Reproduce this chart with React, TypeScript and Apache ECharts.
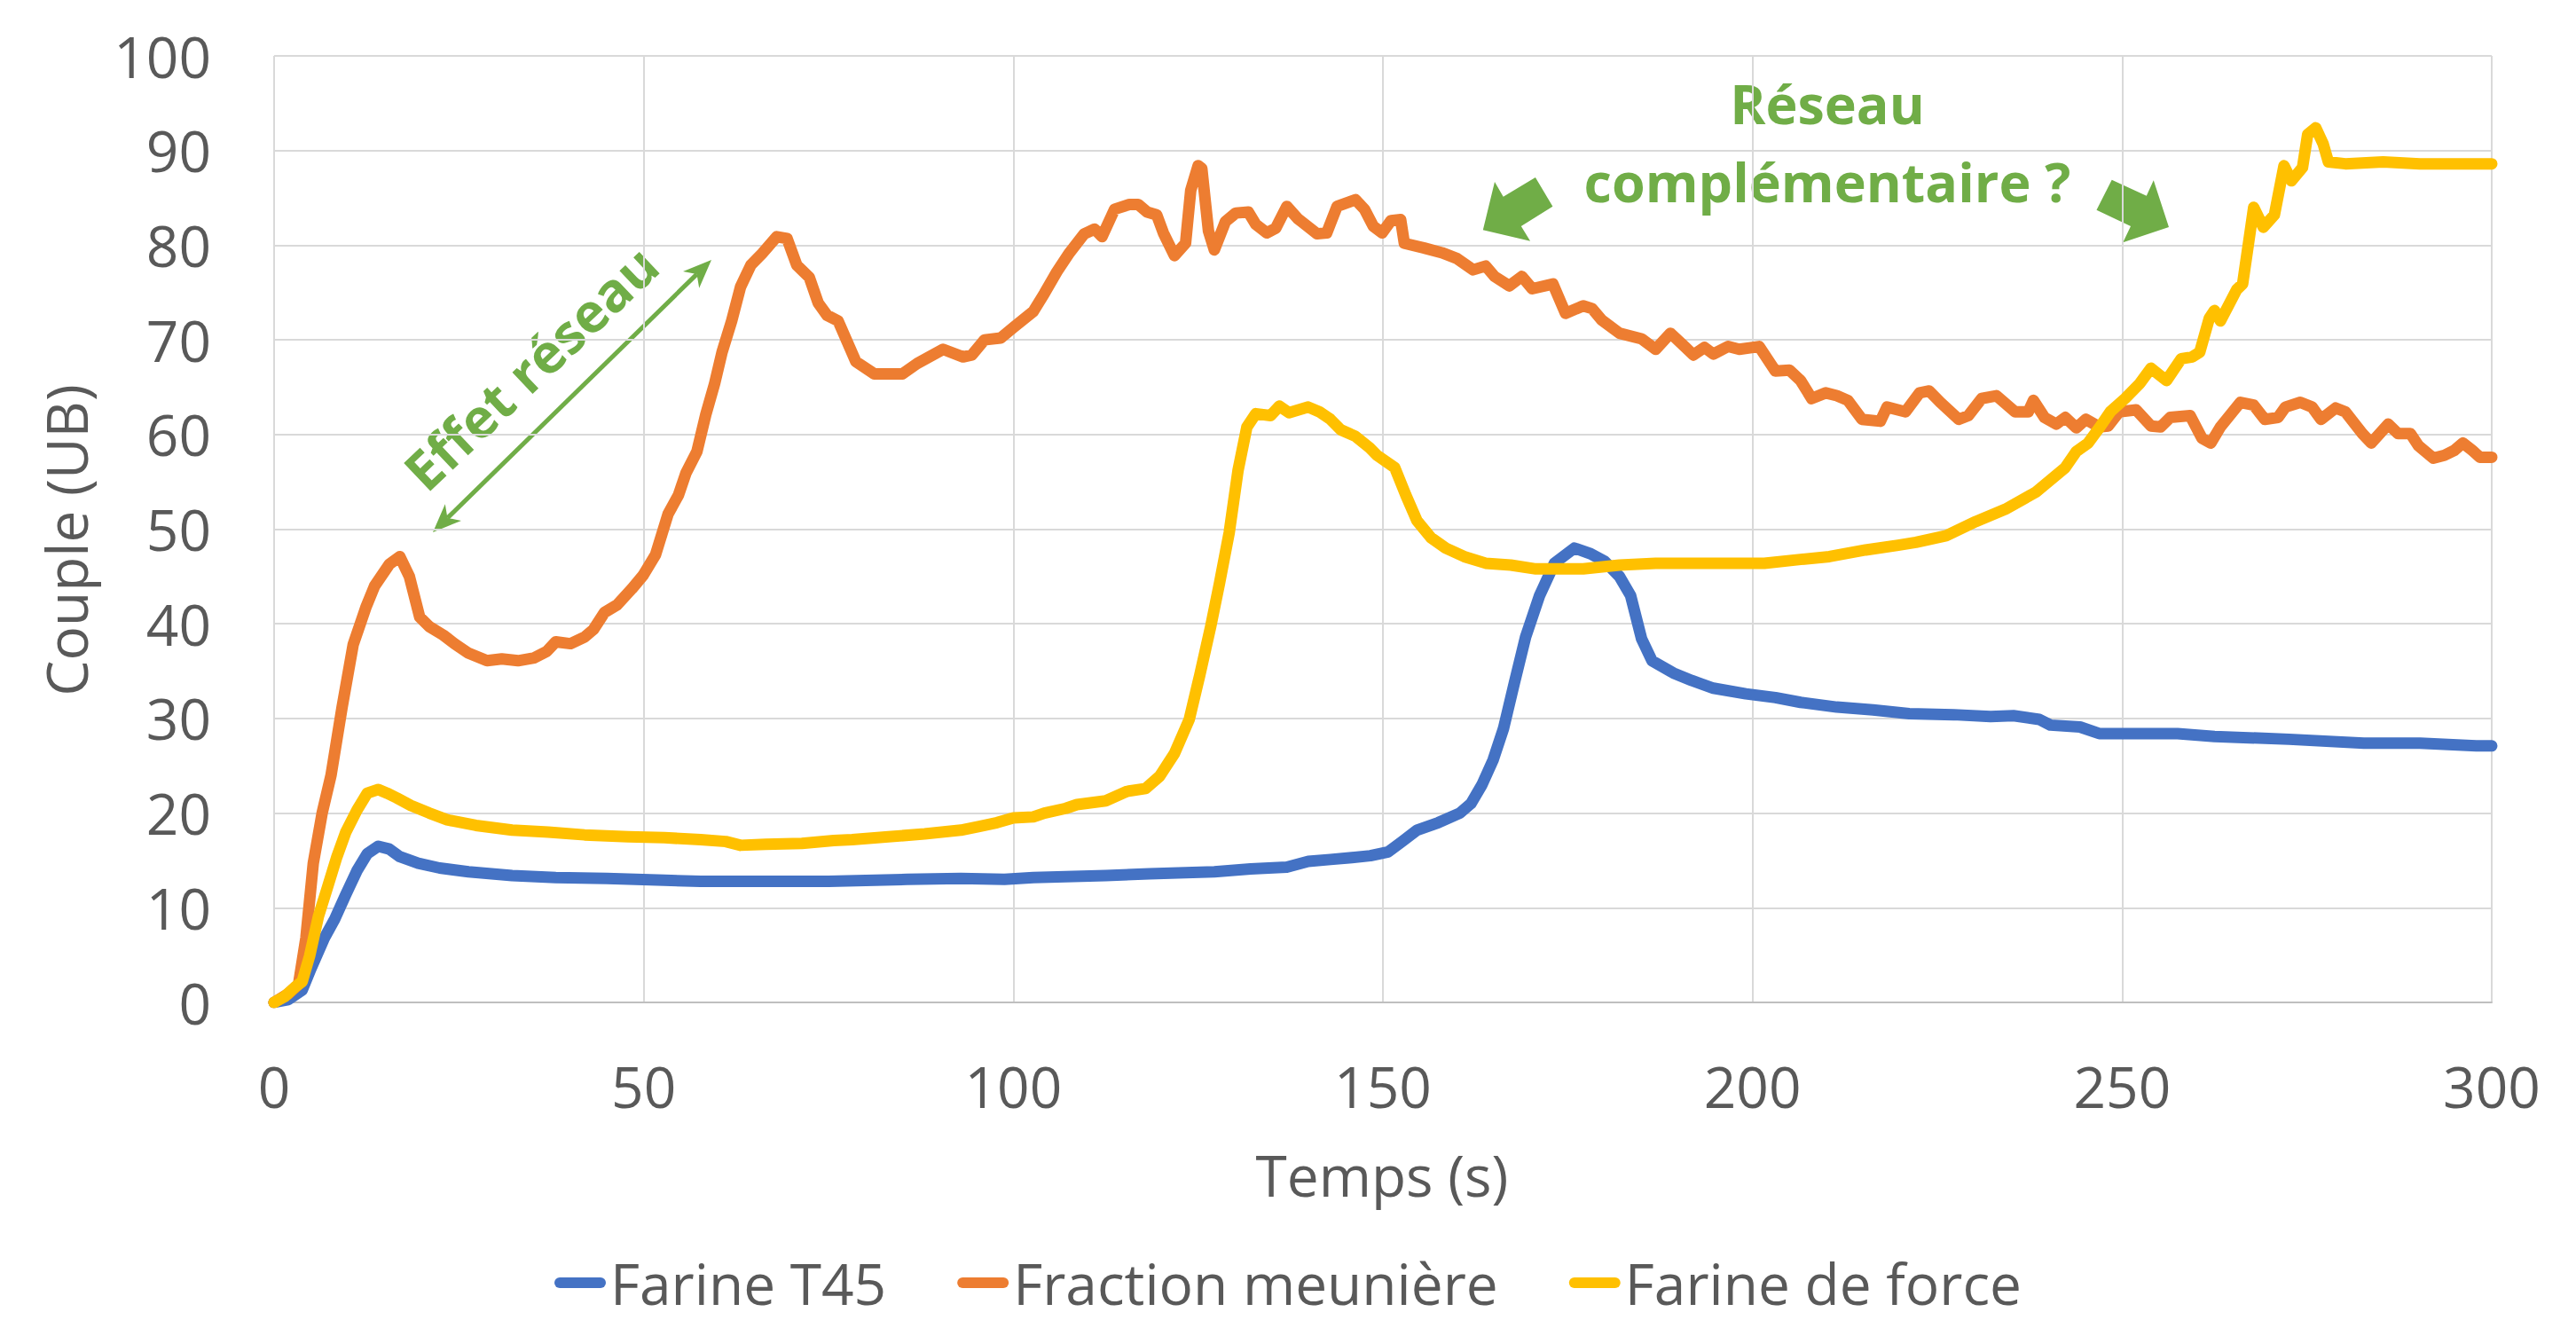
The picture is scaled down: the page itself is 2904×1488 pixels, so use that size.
import { useEffect, useRef } from "react";
import * as echarts from "echarts";

const FONT = "'Open Sans', 'Noto Sans', sans-serif";

const seriesNames = ["Farine T45", "Fraction meunière", "Farine de force"];
const seriesColors = ["#4472C4", "#ED7D31", "#FFC000"];

const xRange = { min: 0, max: 300, step: 50 };
const yRange = { min: 0, max: 100, step: 10 };

// [temps (s), couple (UB)]
const farineT45: [number, number][] = [
  [0, 0], [1.9, 0.3], [3.8, 1.3], [5, 3.6], [6.8, 6.8], [8.2, 8.8], [9.7, 11.4], [11.2, 13.9],
  [12.6, 15.7], [14.1, 16.5], [15.6, 16.2], [17, 15.4], [19.5, 14.7], [22.4, 14.2], [26.3, 13.8],
  [32.2, 13.4], [38.1, 13.2], [45, 13.1], [52.8, 12.9], [57.7, 12.8], [65, 12.8], [75, 12.8],
  [85.6, 13.0], [92.9, 13.1], [98.8, 13.0], [102.7, 13.2], [112.5, 13.4], [118.4, 13.6],
  [127.2, 13.8], [132.1, 14.1], [137, 14.3], [139.9, 14.9], [142.9, 15.1], [145.8, 15.3],
  [148.3, 15.5], [150.7, 15.9], [152.6, 17.0], [154.6, 18.2], [157.5, 19.0], [160.4, 20.0],
  [161.9, 21.0], [163.4, 23.0], [164.9, 25.6], [166.3, 28.9], [167.8, 33.8], [169.3, 38.6],
  [171.2, 43.0], [173.2, 46.4], [175.9, 48.0], [178.1, 47.4], [180, 46.6], [182, 45.0],
  [183.5, 43.0], [185, 38.4], [186.4, 36.1], [189.3, 34.8], [191.8, 34.0], [194.7, 33.2],
  [199.1, 32.6], [203.1, 32.2], [206.5, 31.7], [211.4, 31.2], [216.3, 30.9], [221.2, 30.5],
  [227.2, 30.4], [232.2, 30.2], [235.3, 30.3], [238.8, 29.9], [240.3, 29.3], [244.3, 29.1],
  [246.9, 28.4], [249.9, 28.4], [257.5, 28.4], [262.5, 28.1], [272.6, 27.8], [282.7, 27.4],
  [290.3, 27.4], [297.9, 27.1], [300, 27.1],
];

const fractionMeuniere: [number, number][] = [
  [0, 0], [1.9, 0.9], [3.3, 1.9], [4.3, 6.8], [5.3, 14.7], [6.5, 20], [7.7, 24], [9.2, 31.2],
  [10.7, 37.8], [12.4, 41.7], [13.6, 44], [15.6, 46.3], [17, 47.1], [18.3, 45], [19.7, 40.7],
  [21, 39.7], [22.9, 38.8], [24.4, 37.9], [26.3, 36.9], [28.8, 36.1], [30.8, 36.3], [33, 36.1],
  [35.2, 36.4], [36.9, 37.1], [38.1, 38.1], [40.1, 37.9], [42, 38.6], [43.2, 39.4], [44.7, 41.2],
  [46.4, 42], [48.4, 43.7], [49.9, 45.1], [51.6, 47.3], [53.3, 51.6], [54.7, 53.6], [55.7, 55.9],
  [57.2, 58.2], [58.4, 62.1], [59.6, 65.4], [60.6, 68.7], [61.9, 72], [63.1, 75.6], [64.5, 77.9],
  [66, 79.1], [68, 80.9], [69.4, 80.7], [70.7, 77.9], [72.4, 76.6], [73.6, 73.9], [74.8, 72.6],
  [76.3, 72], [78.7, 67.7], [81.2, 66.4], [85, 66.4], [87, 67.5], [90.5, 69], [93.2, 68.2],
  [94.4, 68.4], [96.1, 70], [98.3, 70.2], [100, 71.3], [102.7, 73], [104.2, 74.9], [105.9, 77.2],
  [107.6, 79.2], [109.6, 81.2], [111, 81.7], [112, 80.9], [113.7, 83.8], [115.7, 84.3],
  [116.9, 84.3], [118.1, 83.5], [119.4, 83.2], [120.3, 81.3], [121.8, 78.9], [123.3, 80.2],
  [124, 85.8], [125, 88.4], [125.5, 88.1], [126.4, 81.5], [127.2, 79.5], [128.7, 82.5],
  [130.1, 83.4], [131.8, 83.5], [132.8, 82.2], [134.3, 81.3], [135.5, 81.8], [137, 84.1],
  [138.5, 82.8], [141.1, 81.2], [142.4, 81.3], [143.8, 84.1], [146.3, 84.8], [147.5, 83.8],
  [148.7, 82.0], [149.9, 81.3], [151.1, 82.6], [152.4, 82.7], [152.9, 80.2], [155.6, 79.7],
  [158, 79.2], [160, 78.6], [162.2, 77.4], [163.9, 77.8], [165.1, 76.7], [167.1, 75.7],
  [168.8, 76.7], [170.2, 75.4], [173, 75.9], [174.7, 72.8], [177.1, 73.6], [178.3, 73.3],
  [179.6, 72.1], [182, 70.7], [185, 70.1], [186.9, 69], [188.9, 70.7], [190.8, 69.3], [192, 68.4],
  [193.5, 69.2], [194.7, 68.5], [196.7, 69.3], [198.2, 69], [200.9, 69.3], [203.1, 66.7],
  [205, 66.8], [206.5, 65.7], [208, 63.8], [209.9, 64.4], [211.4, 64.1], [212.9, 63.6],
  [214.8, 61.6], [217.3, 61.4], [218.2, 62.9], [220.7, 62.4], [222.6, 64.4], [223.9, 64.6],
  [225.4, 63.4], [227.9, 61.6], [229.2, 62], [231, 63.8], [233, 64.1], [235.5, 62.4],
  [237.3, 62.4], [238, 63.6], [239.5, 61.8], [241.1, 61.1], [242.3, 61.8], [243.8, 60.7],
  [245.1, 61.6], [246.9, 60.8], [248.1, 60.9], [249.6, 62.4], [251.9, 62.6], [253.9, 60.9],
  [255.2, 60.8], [256.5, 61.8], [259.2, 62], [260.8, 59.6], [262, 59.1], [263.3, 60.8],
  [266, 63.4], [267.8, 63.1], [269.3, 61.6], [271.1, 61.8], [272.1, 62.9], [274.1, 63.4],
  [275.7, 62.9], [276.9, 61.6], [278.9, 62.8], [280.2, 62.4], [282.5, 60.1], [283.7, 59.1],
  [286, 61.1], [287.3, 60.1], [289, 60.1], [290.1, 58.8], [292.1, 57.5], [293.6, 57.8],
  [294.9, 58.3], [296.1, 59.1], [297.4, 58.3], [298.4, 57.6], [300, 57.6],
];

const farineDeForce: [number, number][] = [
  [0, 0], [1.4, 0.6], [2.8, 1.6], [3.8, 2.2], [4.8, 4.9], [6, 9.1], [7.2, 12.1], [8.5, 15.4],
  [9.7, 18], [11.2, 20.3], [12.6, 22.1], [14.1, 22.5], [15.3, 22.1], [16.6, 21.6], [18.5, 20.8],
  [21, 20], [23.4, 19.3], [27.3, 18.7], [32.2, 18.2], [37.1, 18], [42, 17.7], [47.9, 17.5],
  [52.8, 17.4], [57.7, 17.2], [61.1, 17], [63.1, 16.6], [66.5, 16.7], [71.4, 16.8], [75.7, 17.1],
  [78.2, 17.2], [83.1, 17.5], [88, 17.8], [92.9, 18.2], [95.4, 18.6], [97.8, 19], [100, 19.5],
  [102.7, 19.6], [104.2, 20], [107.1, 20.5], [108.6, 20.9], [112.5, 21.3], [115.4, 22.3],
  [117.9, 22.6], [119.8, 23.9], [121.8, 26.3], [123.8, 29.9], [125.2, 34.5], [126.7, 39.7],
  [127.9, 44.3], [129.2, 49.6], [130.4, 56.2], [131.6, 60.8], [132.8, 62.2], [134.8, 62],
  [136, 63], [137.3, 62.3], [139.9, 62.9], [141.4, 62.4], [142.9, 61.6], [144.3, 60.5],
  [146.3, 59.8], [148.2, 58.6], [149.2, 57.8], [151.6, 56.5], [153.1, 53.6], [154.6, 50.9],
  [156.5, 49.1], [158.5, 48], [161, 47.1], [163.9, 46.4], [167.3, 46.2], [170.7, 45.8],
  [177.1, 45.8], [182, 46.2], [186.9, 46.4], [191.8, 46.4], [196.7, 46.4], [201.6, 46.4],
  [206.5, 46.8], [210.4, 47.1], [215.3, 47.8], [219.7, 48.3], [222.1, 48.6], [226.2, 49.3],
  [230.2, 50.8], [234.2, 52.1], [238.3, 53.9], [242.3, 56.5], [243.8, 58.2], [245.4, 59.1],
  [246.9, 60.7], [248.4, 62.4], [250.4, 63.8], [252.4, 65.4], [253.9, 67], [256, 65.7],
  [258, 68], [259.5, 68.2], [260.5, 68.7], [261.8, 72.3], [262.5, 73.1], [263.3, 72],
  [265.5, 75.3], [266.3, 75.9], [267.8, 84], [269.1, 81.9], [270.6, 83.2], [271.9, 88.4],
  [272.9, 86.8], [274.4, 88.2], [275.1, 91.7], [276.2, 92.4], [277.2, 90.7], [277.9, 88.8],
  [280.2, 88.6], [285.3, 88.8], [290.3, 88.6], [295.3, 88.6], [300, 88.6],
];

const seriesData = [farineT45, fractionMeuniere, farineDeForce];

const GREEN = "#70AD47";
const GREY = "#595959";

type P = [number, number];

function arrowHead(tip: P, from: P, L: number, W: number) {
  const dx = tip[0] - from[0];
  const dy = tip[1] - from[1];
  const len = Math.hypot(dx, dy);
  const ux = dx / len;
  const uy = dy / len;
  const px = -uy;
  const py = ux;
  const bx = tip[0] - ux * L;
  const by = tip[1] - uy * L;
  const notch: P = [tip[0] - ux * L * 0.72, tip[1] - uy * L * 0.72];
  const pts: P[] = [tip, [bx + px * W, by + py * W], notch, [bx - px * W, by - py * W]];
  return { pts, notch };
}

export default function App() {
  const ref = useRef<HTMLDivElement>(null);

  useEffect(() => {
    if (!ref.current) return;
    const chart = echarts.init(ref.current, undefined, { renderer: "svg" });

    const a1: P = [488, 600];
    const a2: P = [802, 293];
    const h1 = arrowHead(a1, a2, 32, 13);
    const h2 = arrowHead(a2, a1, 32, 13);

    const leftBlock: P[] = [
      [1671.8, 259.3], [1685.0, 205], [1694.7, 221.7], [1730.9, 200],
      [1750.4, 232.7], [1714.8, 255], [1725.1, 271.7],
    ];
    const rightBlock: P[] = [
      [2380.7, 202.7], [2419.8, 220.7], [2427.8, 203.3], [2445.0, 256],
      [2393.3, 273.3], [2402.0, 255], [2363.5, 236.7],
    ];

    const option: any = {
      animation: false,
      backgroundColor: "#ffffff",
      textStyle: { fontFamily: FONT },
      grid: { left: 309, top: 63, width: 2500, height: 1067, containLabel: false },
      xAxis: {
        type: "value",
        min: xRange.min,
        max: xRange.max,
        interval: xRange.step,
        axisLine: { show: true, lineStyle: { color: "#BFBFBF", width: 2 } },
        axisTick: { show: false },
        axisLabel: { fontSize: 64, color: GREY, margin: 62, fontFamily: FONT },
        splitLine: { show: true, lineStyle: { color: "#D9D9D9", width: 2 } },
      },
      yAxis: {
        type: "value",
        min: yRange.min,
        max: yRange.max,
        interval: yRange.step,
        axisLine: { show: false },
        axisTick: { show: false },
        axisLabel: { fontSize: 64, color: GREY, margin: 71, fontFamily: FONT },
        splitLine: { show: true, lineStyle: { color: "#D9D9D9", width: 2 } },
      },
      legend: {
        data: seriesNames,
        left: "center",
        top: 1406,
        selectedMode: false,
        icon: "path://M6,0 L52,0 A6,6 0 0 1 52,12 L6,12 A6,6 0 0 1 6,0 Z",
        itemWidth: 58,
        itemHeight: 12,
        itemGap: 80,
        textStyle: { fontSize: 64, lineHeight: 70, color: GREY, fontFamily: FONT },
      },
      series: seriesNames.map((name, i) => ({
        name,
        type: "line",
        data: seriesData[i],
        showSymbol: false,
        symbol: "none",
        color: seriesColors[i],
        lineStyle: { width: 13, color: seriesColors[i], cap: "round", join: "round" },
        emphasis: { disabled: true },
      })),
      graphic: [
        {
          type: "text",
          x: 74,
          y: 609,
          rotation: Math.PI / 2,
          style: { text: "Couple (UB)", fontSize: 64, fontFamily: FONT, fill: GREY, align: "center", verticalAlign: "middle" },
        },
        {
          type: "text",
          x: 1558,
          y: 1324,
          style: { text: "Temps (s)", fontSize: 64, fontFamily: FONT, fill: GREY, align: "center", verticalAlign: "middle" },
        },
        {
          type: "line",
          shape: { x1: h1.notch[0], y1: h1.notch[1], x2: h2.notch[0], y2: h2.notch[1] },
          style: { stroke: GREEN, lineWidth: 5 },
        },
        { type: "polygon", shape: { points: h1.pts }, style: { fill: GREEN } },
        { type: "polygon", shape: { points: h2.pts }, style: { fill: GREEN } },
        {
          type: "text",
          x: 598,
          y: 414,
          rotation: (43.5 * Math.PI) / 180,
          style: { text: "Effet réseau", fontSize: 61, fontWeight: "bold", fontFamily: FONT, fill: GREEN, align: "center", verticalAlign: "middle" },
        },
        {
          type: "text",
          x: 2060,
          y: 116,
          style: { text: "Réseau", fontSize: 61, fontWeight: "bold", fontFamily: FONT, fill: GREEN, align: "center", verticalAlign: "middle" },
        },
        {
          type: "text",
          x: 2060,
          y: 204,
          style: { text: "complémentaire ?", fontSize: 61, fontWeight: "bold", fontFamily: FONT, fill: GREEN, align: "center", verticalAlign: "middle" },
        },
        { type: "polygon", shape: { points: leftBlock }, style: { fill: GREEN } },
        { type: "polygon", shape: { points: rightBlock }, style: { fill: GREEN } },
      ],
    };

    chart.setOption(option);
    return () => chart.dispose();
  }, []);

  return (
    <div
      ref={ref}
      style={{ position: "absolute", left: 0, top: 0, width: 2904, height: 1488, background: "#fff" }}
    />
  );
}
